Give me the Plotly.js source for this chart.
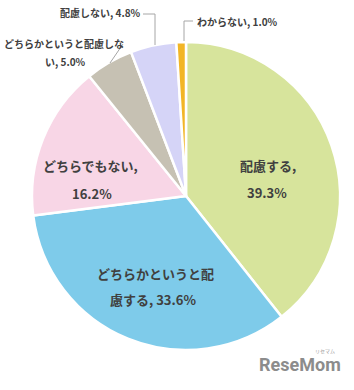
<!DOCTYPE html>
<html><head><meta charset="utf-8">
<script src="https://cdn.plot.ly/plotly-3.0.1.min.js"></script>
<style>html,body{margin:0;padding:0;background:#fff}#c{width:354px;height:390px}</style>
</head><body><div id="c"></div>
<script>
const categories = ["配慮する", "どちらかというと配慮する", "どちらでもない", "どちらかというと配慮しない", "配慮しない", "わからない"];
const values = [39.3, 33.6, 16.2, 5.0, 4.8, 1.0];
const colors = ["#d7e49c", "#7ecbea", "#f8d6e6", "#c6c1b3", "#d5d4f7", "#f2b526"];

const W = 354, H = 390;
const px = x => x / W, py = y => 1 - y / H;

// label layout: break index in full label, line centers (pixels), font size
const labelLayout = [
  {brk: 5,  lines: [[268, 165], [267, 192]], size: 13},
  {brk: 9,  lines: [[155, 273], [153, 299]], size: 13},
  {brk: 8,  lines: [[90, 165], [92, 193]], size: 13},
  {brk: 12, lines: [[64, 43], [65, 61]], size: 10},
  {brk: null, lines: [[100, 13]], size: 10},
  {brk: null, lines: [[237, 21]], size: 10}
];
const leaders = [
  null, null, null,
  [[123, 44], [110, 63]],
  [[143, 14], [155, 14], [155, 45]],
  [[193, 21], [184, 21], [184, 41]]
];

const annotations = [];
categories.forEach((c, i) => {
  const full = c + ", " + values[i].toFixed(1) + "%";
  const L = labelLayout[i];
  const parts = L.brk === null ? [full] : [full.slice(0, L.brk), full.slice(L.brk).trim()];
  parts.forEach((t, j) => {
    annotations.push({
      text: t, xref: "paper", yref: "paper",
      x: px(L.lines[j][0]), y: py(L.lines[j][1]),
      xanchor: "center", yanchor: "middle", showarrow: false,
      font: {family: "Noto Sans CJK JP", size: L.size, color: "#404040", weight: "bold"}
    });
  });
});
annotations.push({
  text: "ReseMom", xref: "paper", yref: "paper", x: px(300), y: py(364),
  xanchor: "center", yanchor: "middle", showarrow: false,
  font: {family: "Roboto", size: 18, color: "#8c8c8c", weight: "bold"}
});
annotations.push({
  text: "リセマム", xref: "paper", yref: "paper", x: px(325), y: py(351),
  xanchor: "center", yanchor: "middle", showarrow: false,
  font: {family: "Noto Sans CJK JP", size: 5, color: "#9a9a9a"}
});

const shapes = leaders.filter(l => l).map(pts => ({
  type: "path", xref: "paper", yref: "paper",
  path: pts.map((p, k) => (k ? "L" : "M") + px(p[0]) + "," + py(p[1])).join(" "),
  line: {color: "#a6a6a6", width: 1}
}));

const trace = {
  type: "pie", labels: categories, values: values,
  marker: {colors: colors, line: {color: "#ffffff", width: 2.5}},
  sort: false, direction: "clockwise", rotation: 0,
  textinfo: "none", hoverinfo: "label+percent",
  domain: {x: [px(32), px(340)], y: [py(350), py(42)]}
};

Plotly.newPlot("c", [trace], {
  width: W, height: H, margin: {l: 0, r: 0, t: 0, b: 0},
  showlegend: false, paper_bgcolor: "#ffffff",
  annotations: annotations, shapes: shapes
}, {displayModeBar: false, staticPlot: true});
</script></body></html>
